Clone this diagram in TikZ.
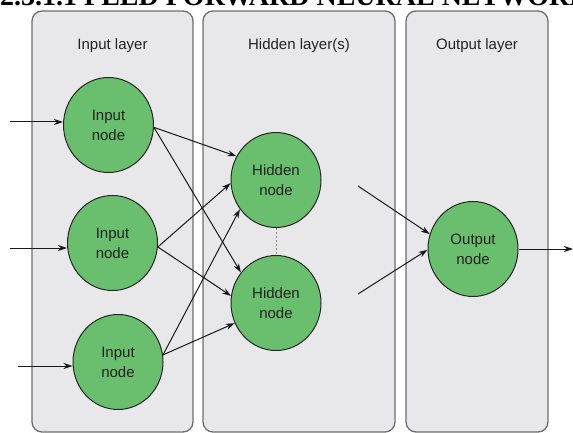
\documentclass[tikz,border=0pt]{standalone}
\usepackage{fontspec}
\setmainfont{Liberation Sans}
\newfontfamily\titlefont{Liberation Serif}
\usetikzlibrary{arrows.meta,shapes.geometric}
\definecolor{panelfill}{HTML}{E8E8EA}
\definecolor{panelline}{HTML}{6E6E6E}
\definecolor{nodegreen}{HTML}{6ABF6E}
\definecolor{txt}{HTML}{222222}
\begin{document}
\begin{tikzpicture}[x=1pt,y=-1pt,
  panel/.style={draw=panelline,fill=panelfill,line width=1.3pt,rounded corners=10pt},
  neuron/.style={ellipse,draw=black!85,fill=nodegreen,line width=1pt,minimum width=90pt,minimum height=95pt,inner sep=0pt,align=center,font=\fontsize{15}{20}\selectfont,text=txt},
  layerlabel/.style={font=\fontsize{15}{18}\selectfont,text=txt},
  arr/.style={draw=black!90,line width=1pt,-{Stealth[length=9pt,width=6pt]}},
  dotline/.style={draw=black!45,line width=1pt,dash pattern=on 2pt off 2pt},
]
\useasboundingbox (0,0) rectangle (573,433);
\begin{scope}
\clip (0,0) rectangle (573,433);
\node[anchor=base west,inner sep=0pt,font=\titlefont\bfseries\fontsize{28}{30}\selectfont] (title) at (0,5.5) {2.3.1.1 FEED FORWARD NEURAL NETWORK};
% panels
\path[panel] (32,11) rectangle (193,432);
\path[panel] (203,11) rectangle (395,432);
\path[panel] (406,11) rectangle (548,432);
\end{scope}
\node[layerlabel] (l1) at (112.5,46) {Input layer};
\node[layerlabel] (l2) at (299,46) {Hidden layer(s)};
\node[layerlabel] (l3) at (477,46) {Output layer};
% neurons
\node[neuron] (in1) at (108.5,125) {Input\\node};
\node[neuron] (in2) at (112.5,243) {Input\\node};
\node[neuron] (in3) at (118,362) {Input\\node};
\node[neuron] (h1) at (276,180) {Hidden\\node};
\node[neuron] (h2) at (276,303) {Hidden\\node};
\node[neuron] (out) at (473,249) {Output\\node};
% free ends
\coordinate (s1) at (10,122);
\coordinate (s2) at (10,248);
\coordinate (s3) at (18,366);
\coordinate (o1) at (358,186);
\coordinate (o2) at (358,294);
\coordinate (oe) at (573,249);
% input arrows
\draw[arr] (s1) -- (s1 -| in1.west);
\draw[arr] (s2) -- (s2 -| in2.west);
\draw[arr] (s3) -- (s3 -| in3.west);
% input to hidden
\draw[arr] (in1.-3) -- (h1.149);
\draw[arr] (in1.-3) -- (h2.139);
\draw[arr] (in2.-5) -- (h1.184);
\draw[arr] (in2.-5) -- (h2.171);
\draw[arr] (in3.9) -- (h1.219);
\draw[arr] (in3.9) -- (h2.206);
% dotted
\draw[dotline] (h1.south) -- (h2.north);
% to output
\draw[arr] (o1) -- (out.161);
\draw[arr] (o2) -- (out.181);
\draw[arr] (out.east) -- (oe);
\end{tikzpicture}
\end{document}
